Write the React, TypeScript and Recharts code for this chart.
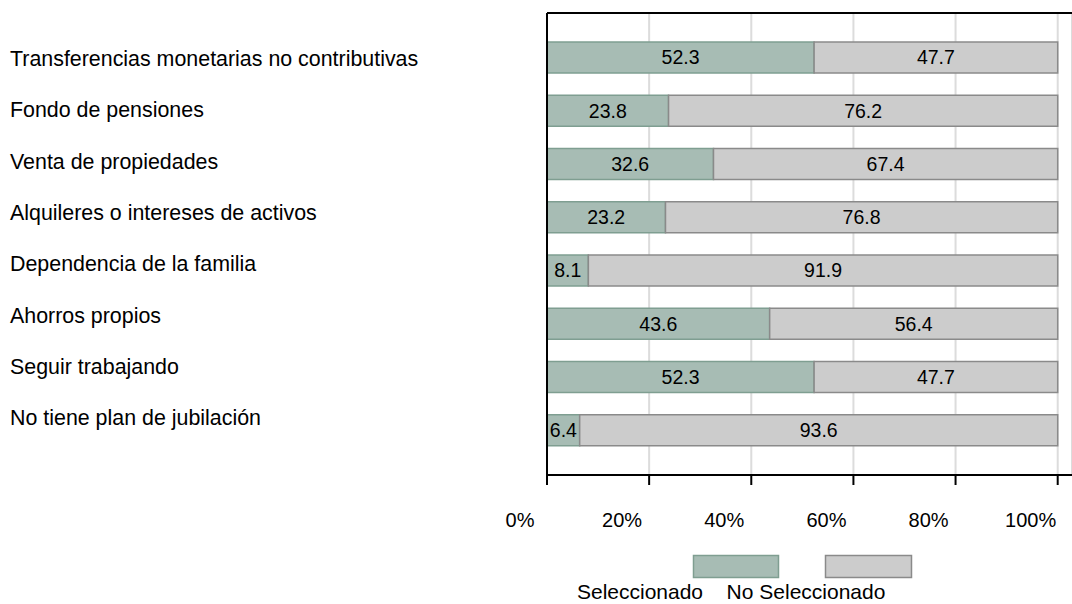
import React from 'react';
import { BarChart, Bar, XAxis, YAxis, CartesianGrid, LabelList } from 'recharts';

const categories = [
  'Transferencias monetarias no contributivas',
  'Fondo de pensiones',
  'Venta de propiedades',
  'Alquileres o intereses de activos',
  'Dependencia de la familia',
  'Ahorros propios',
  'Seguir trabajando',
  'No tiene plan de jubilación',
];
const seleccionado = [52.3, 23.8, 32.6, 23.2, 8.1, 43.6, 52.3, 6.4];
const noSeleccionado = [47.7, 76.2, 67.4, 76.8, 91.9, 56.4, 47.7, 93.6];
const xTicks = [0, 20, 40, 60, 80, 100];

const series = [
  { key: 'sel', name: 'Seleccionado', fill: '#a7bcb4', stroke: '#7f9e91' },
  { key: 'nosel', name: 'No Seleccionado', fill: '#cccccc', stroke: '#8a8a8a' },
];

const data = categories.map((name, i) => ({
  name,
  sel: seleccionado[i],
  nosel: noSeleccionado[i],
}));

const FONT = '"Liberation Sans", Arial, sans-serif';

const XTick = (props: any) => {
  const { x, y, payload } = props;
  return (
    <text x={x - 27} y={y + 42} textAnchor="middle" fontSize={20} fontFamily={FONT} fill="#000">
      {payload.value}%
    </text>
  );
};

// category labels sit a little tighter than the bars in the original
const YTick = (props: any) => {
  const { y, payload, index } = props;
  return (
    <text x={10} y={y + 8.4 - 1.94 * index} textAnchor="start" fontSize={21.4} fontFamily={FONT} fill="#000">
      {payload.value}
    </text>
  );
};

const App: React.FC = () => {
  return (
    <div style={{ position: 'absolute', left: 0, top: 0, width: 1072, height: 604, background: '#fff' }}>
      <BarChart
        width={1072}
        height={604}
        data={data}
        layout="vertical"
        margin={{ top: 12, right: 0, bottom: 0, left: 0 }}
        barCategoryGap={0}
      >
        <CartesianGrid horizontal={false} stroke="#dcdcdc" strokeWidth={2} />
        <XAxis
          type="number"
          domain={[0, 102.8]}
          ticks={xTicks}
          allowDataOverflow
          height={129}
          tickSize={10}
          tickMargin={0}
          tick={<XTick />}
          axisLine={{ stroke: '#000', strokeWidth: 2 }}
          tickLine={{ stroke: '#000', strokeWidth: 2 }}
        />
        <XAxis
          xAxisId="top"
          orientation="top"
          type="number"
          domain={[0, 102.8]}
          ticks={xTicks}
          height={1}
          tick={false}
          tickLine={false}
          axisLine={{ stroke: '#000', strokeWidth: 2 }}
        />
        <YAxis
          type="category"
          dataKey="name"
          width={547}
          padding={{ top: 18, bottom: 18 }}
          tickLine={false}
          tick={<YTick />}
          interval={0}
          axisLine={{ stroke: '#000', strokeWidth: 2 }}
        />
        {series.map((s) => (
          <Bar
            key={s.key}
            dataKey={s.key}
            name={s.name}
            stackId="a"
            barSize={31}
            fill={s.fill}
            stroke={s.stroke}
            strokeWidth={1.5}
            isAnimationActive={false}
          >
            <LabelList
              dataKey={s.key}
              position="center"
              fill="#000"
              fontSize={19.5}
              fontFamily={FONT}
            />
          </Bar>
        ))}
      </BarChart>
      <svg
        width={1072}
        height={604}
        style={{ position: 'absolute', left: 0, top: 0, pointerEvents: 'none' }}
      >
        <rect x={693.5} y={555.5} width={85} height={22} fill={series[0].fill} stroke={series[0].stroke} strokeWidth={1.5} />
        <rect x={825.5} y={555.5} width={86} height={22} fill={series[1].fill} stroke={series[1].stroke} strokeWidth={1.5} />
        <text x={640} y={599} textAnchor="middle" fontSize={21} fontFamily={FONT} fill="#000">
          {series[0].name}
        </text>
        <text x={806} y={599} textAnchor="middle" fontSize={21} fontFamily={FONT} fill="#000">
          {series[1].name}
        </text>
      </svg>
    </div>
  );
};

export default App;
